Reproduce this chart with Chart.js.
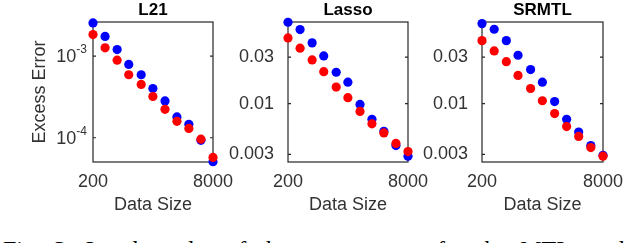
<!DOCTYPE html>
<html>
<head>
<meta charset="utf-8">
<script src="https://cdn.jsdelivr.net/npm/chart.js@4.4.0/dist/chart.umd.min.js"></script>
<style>
  html, body { margin: 0; padding: 0; background: #fff; width: 640px; height: 243px; overflow: hidden; }
  canvas { position: absolute; top: 0; }
  #caption { position: absolute; left: 3px; top: 236px; font: 24px "Liberation Serif"; white-space: nowrap; color: #000; word-spacing: 7px; }
</style>
</head>
<body>
<canvas id="c1" width="240" height="220" style="left:0px"></canvas>
<canvas id="c2" width="220" height="220" style="left:214px"></canvas>
<canvas id="c3" width="230" height="220" style="left:410px"></canvas>
<div id="caption">Fig. 3: Log-log plot of the excess error for the MTL methods</div>
<script>
const dataSize = [200, 290, 420, 600, 880, 1260, 1830, 2640, 3810, 5520, 8000];
const xTicks = [200, 8000];

const l21Red = [1.83e-3, 1.26e-3, 8.9e-4, 5.9e-4, 4.5e-4, 3.2e-4, 2.23e-4, 1.59e-4, 1.30e-4, 9.6e-5, 5.75e-5];
const l21Blue = [2.54e-3, 1.74e-3, 1.20e-3, 7.9e-4, 5.9e-4, 4.0e-4, 2.82e-4, 1.80e-4, 1.46e-4, 9.3e-5, 5.1e-5];
const l21Ticks = [1e-4, 1e-3];

const lassoRed = [0.0473, 0.0371, 0.0281, 0.0213, 0.0148, 0.0115, 0.0083, 0.0062, 0.0050, 0.0039, 0.00321];
const lassoBlue = [0.0686, 0.0577, 0.0421, 0.0309, 0.0210, 0.0166, 0.0098, 0.0069, 0.0052, 0.0037, 0.00288];

const srmtlRed = [0.0444, 0.0348, 0.0270, 0.0195, 0.0143, 0.0107, 0.0079, 0.0058, 0.0046, 0.00353, 0.00288];
const srmtlBlue = [0.0664, 0.0581, 0.0444, 0.0314, 0.0224, 0.0166, 0.0105, 0.0069, 0.0051, 0.0037, 0.00294];
const smallTicks = [0.003, 0.01, 0.03];

const FONT = 'Liberation Sans, Arial, sans-serif';
const INK = '#333333';

// box round the plot with short inward ticks, matlab style
const frame = {
    id: 'frame',
    beforeDatasetsDraw(chart) {
        const { ctx, chartArea: a } = chart;
        const ys = chart.scales.y;
        ctx.save();
        ctx.strokeStyle = '#262626';
        ctx.lineWidth = 1.2;
        ctx.strokeRect(a.left, a.top, a.right - a.left, a.bottom - a.top);
        ctx.beginPath();
        ys.ticks.forEach(t => {
            const y = ys.getPixelForValue(t.value);
            ctx.moveTo(a.left, y); ctx.lineTo(a.left + 3, y);
            ctx.moveTo(a.right - 3, y); ctx.lineTo(a.right, y);
        });
        ctx.stroke();
        ctx.restore();
    }
};

// 10^n labels with a raised exponent
const powLabels = {
    id: 'powLabels',
    afterDraw(chart) {
        const { ctx, chartArea: a } = chart;
        const ys = chart.scales.y;
        ctx.save();
        ctx.fillStyle = INK;
        ctx.textBaseline = 'middle';
        ys.ticks.forEach(t => {
            const y = ys.getPixelForValue(t.value);
            const exp = String(Math.round(Math.log10(t.value)));
            ctx.font = '12px ' + FONT;
            const w = ctx.measureText(exp).width;
            const right = a.left - 6;
            ctx.textAlign = 'left';
            ctx.fillText(exp, right - w, y - 6);
            ctx.font = '18px ' + FONT;
            ctx.textAlign = 'right';
            ctx.fillText('10', right - w, y + 1);
        });
        ctx.restore();
    }
};

const panels = [
    { id: 'c1', title: 'L21', left: 0, width: 240, areaLeft: 93, areaRight: 213, yMin: 5.05e-5, yMax: 2.61e-3, yTicks: l21Ticks, red: l21Red, blue: l21Blue, yTitle: 'Excess Error' },
    { id: 'c2', title: 'Lasso', left: 214, width: 220, areaLeft: 288, areaRight: 408, yMin: 0.00251, yMax: 0.069, yTicks: smallTicks, red: lassoRed, blue: lassoBlue },
    { id: 'c3', title: 'SRMTL', left: 410, width: 230, areaLeft: 482, areaRight: 603, yMin: 0.00251, yMax: 0.069, yTicks: smallTicks, red: srmtlRed, blue: srmtlBlue }
];

function points(values) {
    return dataSize.map((x, i) => ({ x: x, y: values[i] }));
}

panels.forEach(p => {
    const pow = !!p.yTitle;
    new Chart(document.getElementById(p.id), {
        type: 'scatter',
        data: {
            datasets: [{
                data: points(p.red),
                backgroundColor: '#ff0000',
                pointRadius: 4.6,
                pointBorderWidth: 0,
                clip: false
            }, {
                data: points(p.blue),
                backgroundColor: '#0000ff',
                pointRadius: 4.6,
                pointBorderWidth: 0,
                clip: false
            }]
        },
        options: {
            responsive: false,
            animation: false,
            events: [],
            layout: {
                padding: { left: 0, top: 0, bottom: 0, right: p.left + p.width - p.areaRight }
            },
            plugins: {
                legend: { display: false },
                tooltip: { enabled: false },
                title: {
                    display: true,
                    text: p.title,
                    fullSize: false,
                    color: '#000',
                    font: { family: FONT, size: 17, weight: 'bold', lineHeight: 1 },
                    padding: { top: 2, bottom: 3 }
                }
            },
            scales: {
                x: {
                    type: 'logarithmic',
                    min: 200,
                    max: 8000,
                    grid: { display: false },
                    border: { display: false },
                    afterBuildTicks: s => { s.ticks = xTicks.map(v => ({ value: v })); },
                    afterFit: s => { s.height = 58; },
                    ticks: {
                        color: INK,
                        font: { family: FONT, size: 18 },
                        padding: 1,
                        maxRotation: 0,
                        autoSkip: false,
                        callback: v => String(v)
                    },
                    title: {
                        display: true,
                        text: 'Data Size',
                        color: INK,
                        font: { family: FONT, size: 18 },
                        padding: { top: 0, bottom: 4 }
                    }
                },
                y: {
                    type: 'logarithmic',
                    min: p.yMin,
                    max: p.yMax,
                    grid: { display: false },
                    border: { display: false },
                    afterBuildTicks: s => { s.ticks = p.yTicks.map(v => ({ value: v })); },
                    afterFit: s => { s.width = p.areaLeft - p.left; },
                    ticks: {
                        display: !pow,
                        color: INK,
                        font: { family: FONT, size: 18 },
                        padding: 6,
                        callback: v => String(v)
                    },
                    title: {
                        display: pow,
                        text: p.yTitle || '',
                        color: INK,
                        font: { family: FONT, size: 18 },
                        padding: { top: 29, bottom: 0 }
                    }
                }
            }
        },
        plugins: pow ? [frame, powLabels] : [frame]
    });
});
</script>
</body>
</html>
